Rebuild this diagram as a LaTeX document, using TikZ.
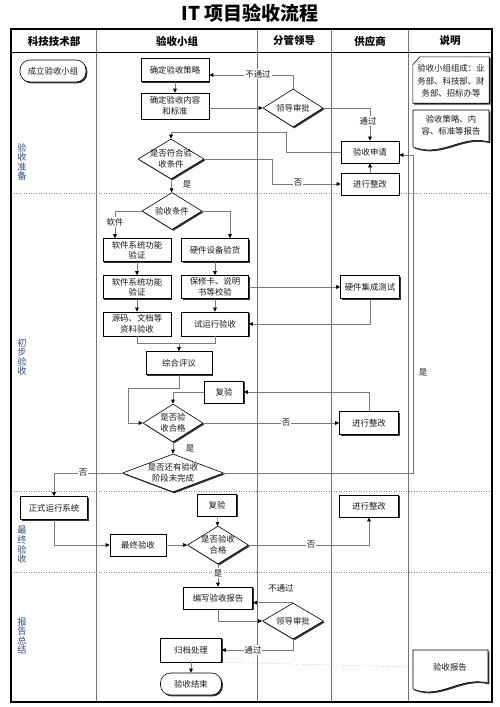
\documentclass[tikz,border=0pt]{standalone}
\usepackage{fontspec}
\setmainfont{Noto Sans CJK SC}
\usetikzlibrary{shapes.geometric,arrows.meta,shadows}
\definecolor{rowblue}{HTML}{2F4B8C}
\definecolor{lgray}{HTML}{7A7A7A}
\begin{document}
\begin{tikzpicture}[x=1pt,y=-1pt,
  base/.style={font=\fontsize{8.4}{10.5}\selectfont, align=center, text=black!90},
  shad/.style={drop shadow={shadow xshift=1.4pt, shadow yshift=-1.4pt, fill=black!80, opacity=1}},
  box/.style={base, draw=black, line width=0.6pt, fill=white, inner sep=1pt, shad},
  stad/.style={box, rounded corners=10pt},
  dec/.style={diamond, draw=black, line width=0.6pt, fill=white, inner sep=0pt, shad},
  conn/.style={draw=lgray, line width=0.6pt},
  arr/.style={conn, -{Triangle[length=4pt,width=3.6pt,color=black]}},
  lab/.style={base, fill=white, inner sep=1pt},
  lbl/.style={base, inner sep=1pt},
  hdr/.style={font=\fontsize{10.5}{12}\selectfont\bfseries},
  rowlab/.style={font=\fontsize{9.2}{9.6}\selectfont, align=center, text=rowblue},
  colline/.style={draw=black!55, line width=0.6pt},
  rowline/.style={draw=black!45, line width=0.5pt, dotted}
]
\useasboundingbox (0,0) rectangle (500,707);

% title
\node[font=\fontsize{19}{22}\selectfont\bfseries] (title) at (250,13) {IT 项目验收流程};

% frame
\draw[colline] (96,29) -- (96,702);
\draw[colline] (257,29) -- (257,702);
\draw[colline] (331,29) -- (331,702);
\draw[colline] (408,29) -- (408,702);
\draw[rowline] (11,193) -- (492,193);
\draw[rowline] (11,491) -- (492,491);
\draw[rowline] (11,572) -- (492,572);
\draw[line width=0.9pt] (11,52) -- (492,52);
\draw[line width=1.5pt] (11,29) rectangle (492,702);

% headers
\node[hdr] (h1) at (54,41) {科技技术部};
\node[hdr] (h2) at (177,41) {验收小组};
\node[hdr] (h3) at (294,41) {分管领导};
\node[hdr] (h4) at (370,41) {供应商};
\node[hdr] (h5) at (450,41) {说明};

% row labels
\node[rowlab] (r1) at (22,162) {验\\收\\准\\备};
\node[rowlab] (r2) at (22,357) {初\\步\\验\\收};
\node[rowlab] (r3) at (22,545) {最\\终\\验\\收};
\node[rowlab] (r4) at (22,636) {报\\告\\总\\结};

% nodes
\node[stad, minimum width=66pt, minimum height=22pt] (start) at (53,71) {成立验收小组};
\node[box, minimum width=68pt, minimum height=23pt] (s1) at (175,70) {确定验收策略};
\node[box, minimum width=68pt, minimum height=26pt] (s2) at (175,106) {确定验收内容\\和标准};
\node[dec, minimum width=60pt, minimum height=38pt, label={[base]center:领导审批}] (ap1) at (293,108) {};
\node[box, minimum width=58pt, minimum height=22pt] (apply) at (370,152) {验收申请};
\node[box, minimum width=58pt, minimum height=22pt] (fix1) at (370,184) {进行整改};
\node[dec, minimum width=66pt, minimum height=40pt, label={[base]center:{是否符合验\\收条件}}] (c1) at (171,159) {};
\node[dec, minimum width=60pt, minimum height=37pt, label={[base]center:验收条件}] (c2) at (172,211) {};
\node[box, minimum width=68pt, minimum height=23pt] (sw1) at (137,250) {软件系统功能\\验证};
\node[box, minimum width=67pt, minimum height=23pt] (hw1) at (215,250) {硬件设备验货};
\node[box, minimum width=68pt, minimum height=23pt] (sw2) at (137,287) {软件系统功能\\验证};
\node[box, minimum width=67pt, minimum height=23pt] (hw2) at (215,287) {保修卡、说明\\书等校验};
\node[box, minimum width=68pt, minimum height=24pt] (sw3) at (137,324) {源码、文档等\\资料验收};
\node[box, minimum width=67pt, minimum height=24pt] (hw3) at (215,324) {试运行验收};
\node[box, minimum width=59pt, minimum height=23pt] (hit) at (370,287) {硬件集成测试};
\node[box, minimum width=66pt, minimum height=23pt] (rev) at (179,363) {综合评议};
\node[box, minimum width=39pt, minimum height=22pt] (re1) at (224,392) {复验};
\node[dec, minimum width=60pt, minimum height=38pt, label={[base]center:{是否验\\收合格}}] (q1) at (173,423) {};
\node[box, minimum width=59pt, minimum height=23pt] (fix2) at (369,423) {进行整改};
\node[dec, minimum width=101pt, minimum height=38pt, label={[base]center:{是否还有验收\\阶段未完成}}] (q2) at (173,473) {};
\node[box, minimum width=67pt, minimum height=23pt] (fin1) at (54,508) {正式运行系统};
\node[box, minimum width=56pt, minimum height=22pt] (fa) at (138,545) {最终验收};
\node[box, minimum width=39pt, minimum height=22pt] (re2) at (217,505) {复验};
\node[dec, minimum width=61pt, minimum height=38pt, label={[base]center:{是否验收\\合格}}] (q3) at (218,545) {};
\node[box, minimum width=59pt, minimum height=22pt] (fix3) at (369,506) {进行整改};
\node[box, minimum width=69pt, minimum height=22pt] (rep) at (218,598) {编写验收报告};
\node[dec, minimum width=61pt, minimum height=36pt, label={[base]center:领导审批}] (ap2) at (293,621) {};
\node[box, minimum width=61pt, minimum height=24pt] (arc) at (191,650) {归档处理};
\node[stad, minimum width=61pt, minimum height=22pt] (end) at (191,684) {验收结束};

% documents in the notes column
\node[base, minimum width=76pt, minimum height=46pt, inner sep=0pt] (doc1) at (451,80) {};
\filldraw[draw=black, line width=0.6pt, fill=white, shad]
  ([yshift=-8pt]doc1.north west) -- ([xshift=7pt]doc1.north west) -- (doc1.north east)
  -- (doc1.south east) -- (doc1.south west) -- cycle;
\node[base, font=\fontsize{8.4}{12.5}\selectfont] (doc1t) at (451,81) {验收小组组成：业\\务部、科技部、财\\务部、招标办等};

\coordinate (d2a) at (413,110);
\coordinate (d2b) at (489,110);
\coordinate (d2c) at (489,142);
\coordinate (d2d) at (413,147);
\filldraw[draw=black, line width=0.6pt, fill=white, shad]
  (d2a) -- (d2b) -- (d2c) .. controls (462,134) and (442,158) .. (d2d) -- cycle;
\node[base, font=\fontsize{8.4}{12}\selectfont] (doc2) at (451,125) {验收策略、内\\容、标准等报告};

\coordinate (d3a) at (413,650);
\coordinate (d3b) at (488,650);
\coordinate (d3c) at (488,683);
\coordinate (d3d) at (413,689);
\filldraw[draw=black, line width=0.6pt, fill=white, shad]
  (d3a) -- (d3b) -- (d3c) .. controls (460,676) and (440,700) .. (d3d) -- cycle;
\node[base] (rdoc) at (450,667) {验收报告};

% connectors
\coordinate (k1) at (286,132);
\coordinate (k2) at (272,184);
\coordinate (m1) at (179,343);
\coordinate (k3) at (128,388);
\coordinate (k4) at (413,155);

\draw[arr] (s1) -- (s2);
\draw[arr] (s2.east |- ap1.west) -- (ap1.west);
\draw[arr] (ap1.north) |- ([yshift=-5pt]s1.east);
\draw[arr] (ap1.east) -| (apply.north);
\draw[arr] (fix1) -- (apply);
\draw[arr] (apply.west) -| (k1) -| (c1.north);
\draw[arr] (c1.east) -| (k2) -- (fix1.west);
\draw[arr] (c1) -- (c2);
\draw[arr] (c2.west) -| ([xshift=-22pt]sw1.north);
\draw[arr] (c2.east) -| ([xshift=15pt]hw1.north);
\draw[arr] (sw1) -- (sw2);
\draw[arr] (sw2) -- (sw3);
\draw[arr] (hw1) -- (hw2);
\draw[arr] (hw2) -- (hw3);
\draw[arr] (hw2.east) -- (hit.west);
\draw[arr] (hit.south) |- (hw3.east);
\draw[conn] (sw3.south) |- (m1);
\draw[conn] (hw3.south) |- (m1);
\draw[arr] (m1) -- (rev.north);
\draw[arr] (rev.south) |- (k3) |- (q1.west);
\draw[arr] (re1.west) -| (q1.north);
\draw[arr] (q1.east) -- (fix2.west);
\draw[arr] (fix2.north) |- (re1.east);
\draw[arr] (q1) -- (q2);
\draw[arr] (q2.west) -| (fin1.north);
\draw[arr] (q2.east) -| (k4) -- (apply.east |- k4);
\draw[arr] (fin1.south) |- (fa.west);
\draw[arr] (fa) -- (q3);
\draw[arr] (re2) -- (q3);
\draw[arr] (q3.east) -| (fix3.south);
\draw[arr] (q3) -- (rep);
\draw[arr] (rep.south) |- (ap2.west);
\draw[arr] (ap2.north) -- (ap2.north -| rep.east);
\draw[arr] (ap2.south) |- (arc.east);
\draw[arr] (arc) -- (end);
\draw[draw=black!45, line width=0.5pt, dotted] ([xshift=4pt]arc.south east) -- (d3a |- rdoc);

% connector labels
\node[lab] (t1) at (258,74) {不通过};
\node[lab] (t2) at (368,121) {通过};
\node[lab] (t3) at (298,183) {否};
\node[lbl] (t4) at (187,184) {是};
\node[lab] (t5) at (115,222) {软件};
\node[lab] (t6) at (286,423) {否};
\node[lbl] (t7) at (190,448) {是};
\node[lab] (t8) at (83,473) {否};
\node[lbl] (t9) at (423,372) {是};
\node[lab] (t10) at (311,545) {否};
\node[lab] (t11) at (218,573) {是};
\node[lbl] (t12) at (281,588) {不通过};
\node[lab] (t13) at (253,650) {通过};
\end{tikzpicture}
\end{document}
